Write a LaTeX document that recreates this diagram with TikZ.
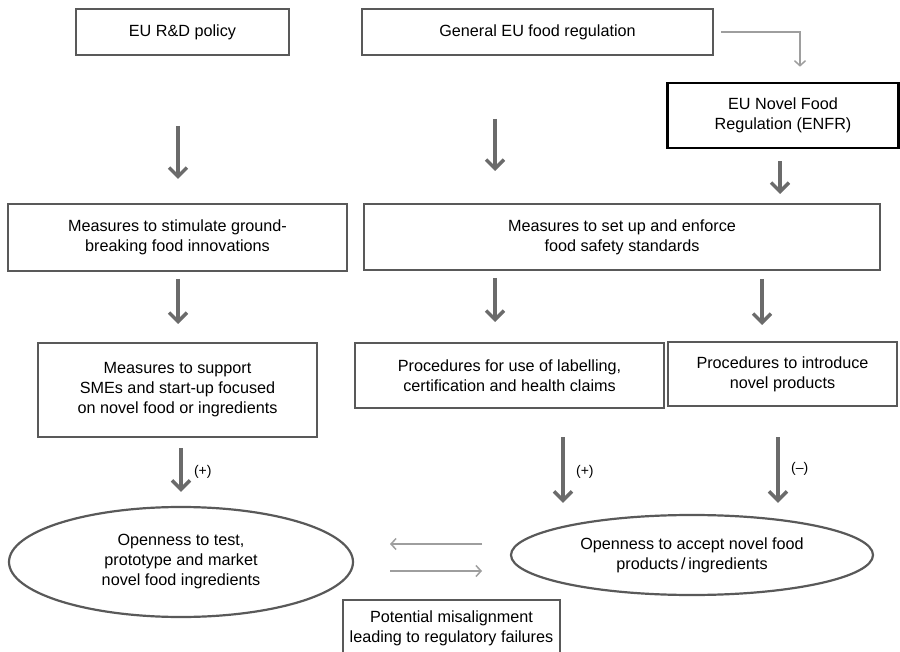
\documentclass[tikz,border=0pt]{standalone}
\usepackage{fontspec}
\setmainfont{Liberation Sans}
\usetikzlibrary{arrows.meta,shapes.geometric}

\definecolor{boxgray}{gray}{0.35}
\definecolor{arrowgray}{gray}{0.42}
\definecolor{linkgray}{gray}{0.62}

\begin{document}
\begin{tikzpicture}[x=1pt,y=-1pt,font=\fontsize{16.2}{20}\selectfont]

	\tikzstyle{box} = [draw=boxgray,line width=2pt,align=center,inner sep=0pt]
	\tikzstyle{oval} = [draw=boxgray,line width=2.2pt,ellipse,align=center,inner sep=0pt]
	\tikzstyle{bigarrow} = [draw=arrowgray,line width=3.5pt,-{Straight Barb[length=9pt,width=18pt]}]
	\tikzstyle{thinarrow} = [draw=linkgray,line width=1.5pt,-{Straight Barb[length=5pt,width=11pt]}]

	\useasboundingbox (0,0) rectangle (900,652);

	% top row
	\node[box,minimum width=213pt,minimum height=46pt] (rnd) at (182.5,32) {EU R\&D policy};
	\node[box,minimum width=351pt,minimum height=46pt] (gen) at (537.5,32) {General EU food regulation};
	\node[box,draw=black,line width=2.6pt,minimum width=231pt,minimum height=65pt] (enfr) at (783,115.5)
		{EU Novel Food\\Regulation (ENFR)};

	% measures
	\node[box,minimum width=339pt,minimum height=67pt] (stim) at (177.5,237.5)
		{Measures to stimulate ground-\\breaking food innovations};
	\node[box,minimum width=516pt,minimum height=66pt] (safe) at (622,237)
		{Measures to set up and enforce\\food safety standards};

	% procedures
	\node[box,minimum width=279pt,minimum height=94pt] (sme) at (177.5,390)
		{Measures to support\\SMEs and start-up focused\\on novel food or ingredients};
	\node[box,minimum width=309pt,minimum height=65pt] (lab) at (509.5,375.5)
		{Procedures for use of labelling,\\certification and health claims};
	\node[box,minimum width=229pt,minimum height=64pt] (intro) at (782.5,374)
		{Procedures to introduce\\novel products};

	% openness
	\node[oval,minimum width=344pt,minimum height=110pt] (tst) at (181,562)
		{Openness to test,\\prototype and market\\novel food ingredients};
	\node[oval,minimum width=362pt,minimum height=80pt] (acc) at (692,555)
		{Openness to accept novel food\\products\,/\,ingredients};

	\node[box,line width=1.2pt,minimum width=217pt,minimum height=56pt] (mis) at (451.5,628)
		{Potential misalignment\\leading to regulatory failures};

	% arrows
	\draw[thinarrow] ([xshift=7pt]gen.east) -| ([xshift=17pt,yshift=15pt]enfr.north);

	\draw[bigarrow,shorten <=70pt,shorten >=24pt] ([xshift=-4.5pt]rnd.south) -- ([xshift=0.5pt]stim.north);
	\draw[bigarrow,shorten <=63pt,shorten >=32pt] ([xshift=-42.5pt]gen.south) -- ([xshift=-127pt]safe.north);
	\draw[bigarrow,shorten <=12pt,shorten >=9pt] ([xshift=-3pt]enfr.south) -- ([xshift=158pt]safe.north);

	\draw[bigarrow,shorten <=7pt,shorten >=18pt] ([xshift=0.5pt]stim.south) -- ([xshift=0.5pt]sme.north);
	\draw[bigarrow,shorten <=7pt,shorten >=20pt] ([xshift=-127pt]safe.south) -- ([xshift=-14.5pt]lab.north);
	\draw[bigarrow,shorten <=8pt,shorten >=16pt] ([xshift=140pt]safe.south) -- ([xshift=-20.5pt]intro.north);

	\draw[bigarrow,shorten <=10pt,shorten >=14pt] ([xshift=3.5pt]sme.south) -- (tst.north)
		node[pos=0.5,right=8pt,font=\fontsize{14}{16}\selectfont] {(+)};
	\draw[bigarrow,shorten <=28pt,shorten >=11pt] ([xshift=53.5pt]lab.south) -- ([xshift=-129pt]acc.north)
		node[pos=0.6,right=8pt,font=\fontsize{14}{16}\selectfont] {(+)};
	\draw[bigarrow,shorten <=30pt,shorten >=11pt] ([xshift=-4.5pt]intro.south) -- ([xshift=86pt]acc.north)
		node[pos=0.58,right=8pt,font=\fontsize{14}{16}\selectfont] {(--)};

	\coordinate (la) at (482,544);
	\coordinate (lb) at (390,544);
	\coordinate (ra) at (390,571);
	\coordinate (rb) at (482,571);
	\draw[thinarrow] (la) -- (lb);
	\draw[thinarrow] (ra) -- (rb);

\end{tikzpicture}
\end{document}
